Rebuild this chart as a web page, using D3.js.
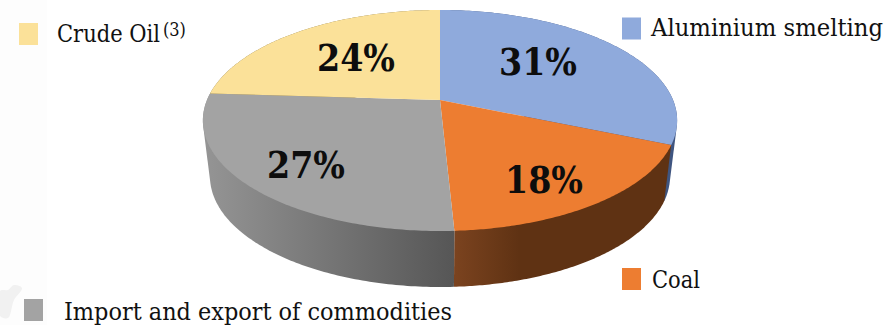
<!DOCTYPE html>
<html><head><meta charset="utf-8">
<script src="https://cdn.jsdelivr.net/npm/d3@7"></script>
<style>html,body{margin:0;padding:0;background:#fff}svg{display:block}text{font-family:"DejaVu Serif Condensed","DejaVu Serif",serif;font-stretch:condensed}</style>
</head><body><svg id="c" width="885" height="325"></svg>
<script>
const categories=["Aluminium smelting","Coal","Import and export of commodities","Crude Oil"];
const values=[31.4,17.8,26.8,24];
const colors=["#8faadc","#ed7d31","#a3a3a3","#fbe199"];
const wallStops=[
  [["#3f5580",0],["#3f5580",1]],
  [["#7b431f",0],["#5f3213",0.3],["#5f3213",1]],
  [["#959595",0],["#565656",1]],
  [["#7d6c3c",0],["#7d6c3c",1]]];
const legendX=[622,622,24,19], legendY=[17.5,268,299,23], textX=[651,652,64,57], baseY=[36,288,320,42];
const textW=[232,48,388,103];
const labelX=[538,544,306,356], labelY=[75,193,178,71];
const watermark=[[0,291],[8,290],[14,285],[22,288],[14,300],[8,318],[0,316]];

const svg=d3.select("#c");
const W=233,B=0.1855,A=106.7,cx=440,cy=100,depth=56,shrink=0.97;
const project=a=>{const u=Math.sin(a),v=-Math.cos(a),w=1-B*v;return [cx+W*u/w,cy+A*v/w];};
const arcs=d3.pie().sort(null)(values);
const line=d3.line();
const sample=(a0,a1)=>d3.range(0,121).map(i=>a0+(a1-a0)*i/120);
const defs=svg.append("defs");

svg.append("rect").attr("x",0).attr("y",0).attr("width",47).attr("height",325).attr("fill","#fdfdfd");
svg.append("path").attr("d",d3.line().curve(d3.curveCatmullRomClosed)(watermark)).attr("fill","#f1f1f1");

arcs.forEach((d,i)=>{
  const top=sample(d.startAngle,d.endAngle).map(project);
  const ext=d3.extent(top,p=>p[0]);
  const g=defs.append("linearGradient").attr("id","w"+i).attr("gradientUnits","userSpaceOnUse")
    .attr("x1",ext[0]).attr("x2",ext[1]).attr("y1",0).attr("y2",0);
  wallStops[i].forEach(s=>g.append("stop").attr("offset",s[1]).attr("stop-color",s[0]));
  const bottom=top.map(p=>[cx+(p[0]-cx)*shrink,p[1]+depth]);
  svg.append("path").attr("d",line(d3.polygonHull(top.concat(bottom)))+"Z").attr("fill",`url(#w${i})`);
});
arcs.forEach((d,i)=>{
  const pts=[[cx,cy]].concat(sample(d.startAngle,d.endAngle).map(project));
  svg.append("path").attr("d",line(pts)+"Z").attr("fill",colors[i]);
});
arcs.forEach((d,i)=>{
  svg.append("text").attr("x",labelX[i]).attr("y",labelY[i]).attr("text-anchor","middle")
    .attr("font-size",37).attr("font-weight","bold").attr("fill","#0d0d0d").text(d3.format(".0f")(values[i])+"%");
  svg.append("rect").attr("x",legendX[i]).attr("y",legendY[i]).attr("width",19).attr("height",22).attr("fill",colors[i]);
  svg.append("text").attr("x",textX[i]).attr("y",baseY[i]).attr("font-size",24).attr("fill","#111")
    .attr("textLength",textW[i]).attr("lengthAdjust","spacingAndGlyphs").text(categories[i]);
  if(i===3){svg.append("text").attr("x",textX[i]+textW[i]+3).attr("y",baseY[i]-6).attr("font-size",18).attr("fill","#111").text("(3)");}
});
</script></body></html>
